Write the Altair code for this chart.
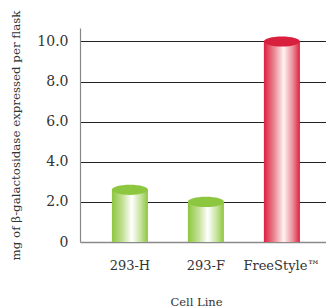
import altair as alt
import pandas as pd

cell_lines = ["293-H", "293-F", "FreeStyle™"]
values = [2.6, 2.0, 10.0]
groups = ["green", "green", "red"]

df = pd.DataFrame({"cell": cell_lines, "value": values, "group": groups})

FONT = "DejaVu Serif"
TXT = "#333333"

green_grad = alt.LinearGradient(
    gradient="linear", x1=0, x2=1, y1=0, y2=0,
    stops=[alt.GradientStop(offset=0, color="#8dc63f"),
           alt.GradientStop(offset=0.3, color="#c3e196"),
           alt.GradientStop(offset=0.55, color="#ffffff"),
           alt.GradientStop(offset=0.8, color="#c6e39c"),
           alt.GradientStop(offset=1, color="#8dc63f")])
red_grad = alt.LinearGradient(
    gradient="linear", x1=0, x2=1, y1=0, y2=0,
    stops=[alt.GradientStop(offset=0, color="#dc1f3f"),
           alt.GradientStop(offset=0.3, color="#eb8c96"),
           alt.GradientStop(offset=0.55, color="#fff4f2"),
           alt.GradientStop(offset=0.8, color="#eb9098"),
           alt.GradientStop(offset=1, color="#dc1f3f")])

x_enc = alt.X("cell:N", sort=cell_lines,
              scale=alt.Scale(paddingInner=0.526, paddingOuter=0.3816, align=0.55),
              axis=alt.Axis(title="Cell Line", domain=False, ticks=False,
                            labelAngle=0, labelFont=FONT, labelFontSize=13,
                            labelColor=TXT, labelPadding=17,
                            titleFont=FONT, titleFontSize=11.5,
                            titleFontWeight="normal", titleColor=TXT,
                            titlePadding=24, titleX=116))
y_enc = alt.Y("value:Q", scale=alt.Scale(domain=[0, 10.67], nice=False),
              axis=alt.Axis(title="mg of β-galactosidase expressed per flask",
                            values=[0, 2, 4, 6, 8, 10],
                            labelExpr="datum.value == 0 ? '0' : format(datum.value, '.1f')",
                            ticks=False, labelPadding=12,
                            labelFont=FONT, labelFontSize=14, labelColor=TXT,
                            domainColor="#888888", domainWidth=1.2,
                            grid=True,
                            gridColor=alt.ConditionalAxisColor(
                                condition={"test": "datum.value === 0", "value": "#8a8a8a"},
                                value="#222222"),
                            gridWidth=alt.ConditionalAxisNumber(
                                condition={"test": "datum.value === 0", "value": 1.6},
                                value=1.1),
                            titleFont=FONT, titleFontSize=11.8,
                            titleFontWeight="normal", titleColor=TXT,
                            titlePadding=15))

base = alt.Chart(df)

green_bars = base.transform_filter(alt.datum.group == "green").mark_bar(
    color=green_grad).encode(x=x_enc, y=y_enc)
red_bars = base.transform_filter(alt.datum.group == "red").mark_bar(
    color=red_grad).encode(x=x_enc, y=y_enc)

cap_shape = "M-1,0 A1,0.28 0 1,1 1,0 A1,0.28 0 1,1 -1,0 Z"
caps = base.mark_point(shape=cap_shape, filled=True, size=1296, opacity=1,
                       strokeWidth=0).encode(
    x=x_enc, y=y_enc,
    color=alt.Color("group:N", scale=alt.Scale(domain=["green", "red"],
                                               range=["#8dc63f", "#d91f3e"]),
                    legend=None))

chart = alt.layer(green_bars, red_bars, caps).properties(
    width=246, height=214,
    autosize=alt.AutoSizeParams(type="none"),
    padding={"left": 72, "top": 20, "right": 0, "bottom": 66},
).configure_view(stroke=None)

chart.save("out.html", embed_options={"renderer": "svg", "actions": False})
